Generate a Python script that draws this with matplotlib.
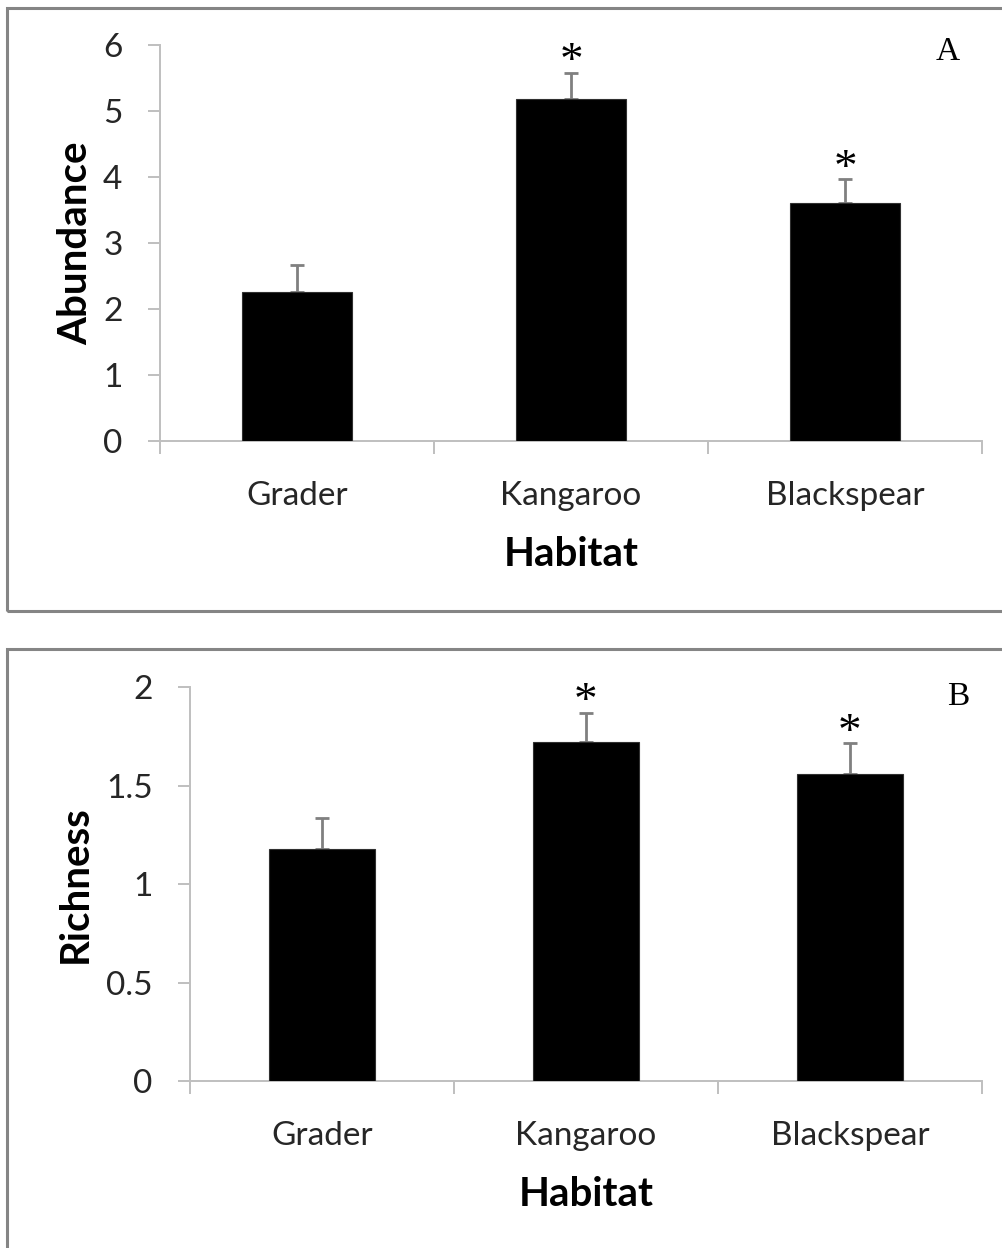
import numpy as np
import matplotlib.pyplot as plt
from matplotlib.patches import Rectangle

habitats = ["Grader", "Kangaroo", "Blackspear"]

abundance = [2.26, 5.19, 3.60]
abundance_se = [0.40, 0.39, 0.37]

richness = [1.18, 1.72, 1.56]
richness_se = [0.155, 0.15, 0.155]

# which habitats differ from Grader
signif = [False, True, True]

SANS = ["Lato", "DejaVu Sans"]
SERIF = ["Liberation Serif", "DejaVu Serif"]
AXIS_GREY = "#bfbfbf"


def panel(fig, rect, vals, errs, ymax, yticks, ylabel, letter, letter_pos, ylab_x):
    ax = fig.add_axes(rect)
    x = np.arange(len(habitats))
    ax.bar(x, vals, width=0.4, color="black", edgecolor="#303030", linewidth=0.8, zorder=3)
    # only the upper half of the error bar shows above the bar
    ax.errorbar(x, vals, yerr=[np.zeros(len(vals)), errs], fmt="none",
                ecolor="#808080", elinewidth=2.0, capsize=5, capthick=2.0, zorder=2)

    for xi, v, e, s in zip(x, vals, errs, signif):
        if s:
            ax.annotate("*", (xi, v + e), xytext=(0, 7), textcoords="offset points",
                        ha="center", va="center", fontsize=34, family=SERIF)

    ax.set_xlim(-0.5, 2.5)
    ax.set_ylim(0, ymax)
    ax.set_yticks(yticks)
    ax.set_yticklabels([f"{t:g}" for t in yticks])
    ax.set_xticks(x)
    ax.set_xticklabels(habitats)
    ax.set_xticks(np.arange(-0.5, 3.0, 1.0), minor=True)

    for side in ["top", "right"]:
        ax.spines[side].set_visible(False)
    for side in ["left", "bottom"]:
        ax.spines[side].set_color(AXIS_GREY)
        ax.spines[side].set_linewidth(1.4)

    ax.tick_params(axis="y", direction="out", length=9, width=1.4, color=AXIS_GREY,
                   pad=18, labelsize=24, labelcolor="#262626")
    ax.tick_params(axis="x", which="major", length=0, pad=29, labelsize=24,
                   labelcolor="#262626")
    ax.tick_params(axis="x", which="minor", direction="out", length=9, width=1.4,
                   color=AXIS_GREY)
    for lab in ax.get_xticklabels() + ax.get_yticklabels():
        lab.set_family(SANS)

    ax.set_xlabel("Habitat", fontsize=29, fontweight="bold", family=SANS, labelpad=18)
    ax.set_ylabel(ylabel, fontsize=29, fontweight="bold", family=SANS)
    ax.yaxis.set_label_coords(ylab_x, 0.5)

    ax.text(letter_pos[0], letter_pos[1], letter, transform=ax.transAxes,
            ha="center", va="center", fontsize=24, family=SERIF)
    return ax


fig = plt.figure(figsize=(10.03, 12.48), dpi=100)

# grey frames round each panel
fig.patches.append(Rectangle((0.007, 0.5104), 1.2, 0.4832, transform=fig.transFigure,
                             fill=False, edgecolor="#858585", linewidth=2.2))
fig.patches.append(Rectangle((0.007, -0.1), 1.2, 0.58, transform=fig.transFigure,
                             fill=False, edgecolor="#858585", linewidth=2.2))

panel(fig, [0.1595, 0.6466, 0.8196, 0.3173], abundance, abundance_se, 6,
      [0, 1, 2, 3, 4, 5, 6], "Abundance", "A", (0.9586, 0.982), -0.080)
panel(fig, [0.1894, 0.1338, 0.7896, 0.3157], richness, richness_se, 2,
      [0, 0.5, 1, 1.5, 2], "Richness", "B", (0.97, 0.975), -0.121)

fig.savefig("out.png", dpi=100)
